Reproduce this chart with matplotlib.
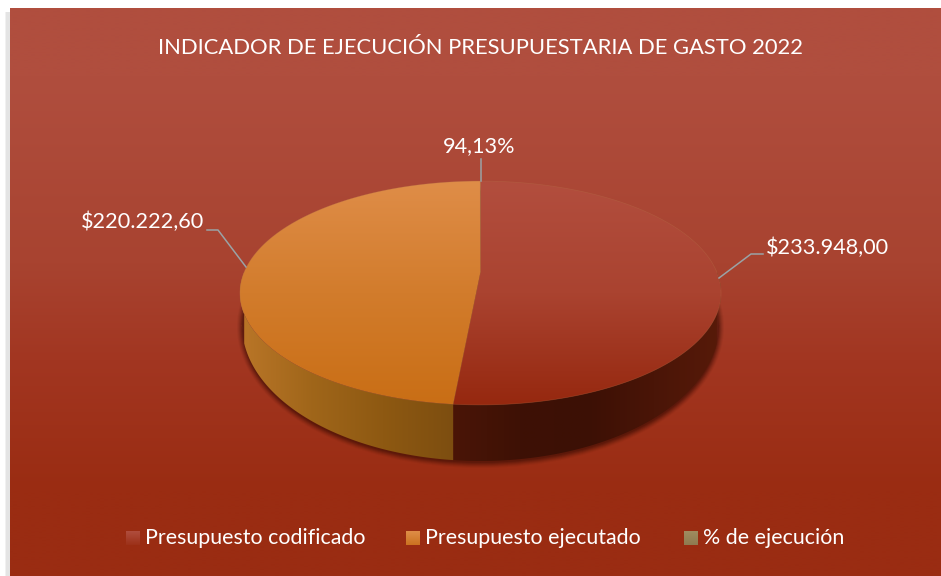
import numpy as np
import matplotlib
matplotlib.use('Agg')
import matplotlib.pyplot as plt
from matplotlib.colors import LinearSegmentedColormap
from matplotlib.patches import Ellipse, Polygon, Rectangle

plt.rcParams['font.family'] = ['Lato', 'DejaVu Sans']

title = 'INDICADOR DE EJECUCIÓN PRESUPUESTARIA DE GASTO 2022'
categories = ['Presupuesto codificado', 'Presupuesto ejecutado', '% de ejecución']
values = [233948.00, 220222.60, 94.13]
labels = ['$233.948,00', '$220.222,60', '94,13%']

W, H = 941, 576

# geometria del pastel en pixeles, con perspectiva
cx, cy = 480.5, 272
b, a, k = 236.3, 108, 0.1875
# elipse inferior de la pared
base_cy, base_rx, base_ry = 325, 238.5, 136


def project(theta):
    # theta en sentido horario desde las 12
    u = np.sin(theta)
    v = -np.cos(theta)
    d = 1 - k * v
    return cx + b * u / d, cy + a * v / d


def base_y(x):
    t = np.clip((x - cx) / base_rx, -1, 1)
    return base_cy + base_ry * np.sqrt(1 - t ** 2)


def grad(colors, extent, horizontal=False, clip=None, zorder=1):
    cmap = LinearSegmentedColormap.from_list('g', colors)
    t = np.linspace(0, 1, 256)
    img = t[None, :] if horizontal else t[:, None]
    im = ax.imshow(img, cmap=cmap, extent=extent, aspect='auto', zorder=zorder,
                   interpolation='bilinear')
    if clip is not None:
        im.set_clip_path(clip)
    ax.set_xlim(0, W)
    ax.set_ylim(H, 0)
    return im


fig = plt.figure(figsize=(W / 100, H / 100), dpi=100, facecolor='white')
ax = fig.add_axes([0, 0, 1, 1])
ax.set_xlim(0, W)
ax.set_ylim(H, 0)
ax.axis('off')

# sombra del marco y fondo
for i in range(5):
    ax.add_patch(Rectangle((10 - i * 1.2, 12), 3, H, color='#555555', alpha=0.08, lw=0, zorder=0))
bg = [(0, '#B04E3E'), (0.12, '#B04E3E'), (0.45, '#A84330'), (0.62, '#A23621'),
      (0.85, '#9A2C12'), (1, '#9A2C12')]
grad(bg, (10, W, H, 8), zorder=0.5)

# angulos a partir de los datos
fracs = np.array(values) / sum(values)
edges = np.concatenate([[0], np.cumsum(fracs)]) * 2 * np.pi

# sombra bajo el pastel
for grow, al in zip([5, 4, 3, 2, 1, 0], [0.06, 0.09, 0.12, 0.16, 0.2, 0.25]):
    ax.add_patch(Ellipse((cx, base_cy + 2), 2 * (base_rx + grow), 2 * (base_ry + grow),
                         color='#3A0D04', alpha=al, lw=0, zorder=1))

# pared lateral
top_colors = [['#B24E3E', '#AA4330', '#96280F'], ['#DF8D48', '#D27C2C', '#C96E15'], ['#A39160', '#978355', '#8A7548']]
side_colors = [['#571A09', '#4A1507', '#3C1005', '#3E1105', '#4A1507'],
               ['#BA7628', '#A0661A', '#8E5912', '#7D4E10'],
               ['#8A7548', '#8A7548']]
for i in range(3):
    t0 = max(edges[i], np.pi / 2)
    t1 = min(edges[i + 1], 3 * np.pi / 2)
    if t1 <= t0:
        continue
    th = np.linspace(t0, t1, 200)
    x1, y1 = project(th)
    y2 = base_y(x1)
    poly = Polygon(np.c_[np.r_[x1, x1[::-1]], np.r_[y1, y2[::-1]]], closed=True, fc='none', ec='none', zorder=2)
    ax.add_patch(poly)
    cols = side_colors[i][::-1] if i == 0 else side_colors[i]
    grad(cols, (x1.min(), x1.max(), 480, 200), horizontal=True, clip=poly, zorder=2)

# cara superior
for i in range(3):
    th = np.linspace(edges[i], edges[i + 1], 300)
    x, y = project(th)
    poly = Polygon(np.c_[np.r_[cx, x], np.r_[cy, y]], closed=True, fc='none', ec='none', zorder=3)
    ax.add_patch(poly)
    grad(top_colors[i], (230, 730, 405, 181), clip=poly, zorder=3)
    ax.plot(np.r_[cx, x], np.r_[cy, y], color='#B8734A', lw=0.5, alpha=0.35, zorder=4)

# lineas guia
leader = '#9AA3A6'
ax.plot([719, 751, 763], [278, 254, 254], color=leader, lw=1.1, zorder=5)
ax.plot([246, 218, 207], [267, 230, 230], color=leader, lw=1.1, zorder=5)
ax.plot([481, 481], [159, 181], color=leader, lw=1.1, zorder=5)

# textos
ax.text(481, 47.5, title, color='white', fontsize=15.8, ha='center', va='center')
ax.text(827, 248, labels[0], color='white', fontsize=15.6, ha='center', va='center')
ax.text(143, 222, labels[1], color='white', fontsize=15.6, ha='center', va='center')
ax.text(479, 146, labels[2], color='white', fontsize=15.6, ha='center', va='center')

# leyenda
leg_x = [126, 406, 684]
leg_colors = [['#B04E3E', '#9C3018'], ['#DF8D48', '#CB7220'], ['#A08C60', '#8F7A50']]
for i in range(3):
    grad(leg_colors[i], (leg_x[i], leg_x[i] + 14, 545, 531), zorder=5)
    ax.text(leg_x[i] + 19, 537.5, categories[i], color='white', fontsize=15.4, ha='left', va='center')

fig.savefig('out.png', dpi=100, facecolor='white')
